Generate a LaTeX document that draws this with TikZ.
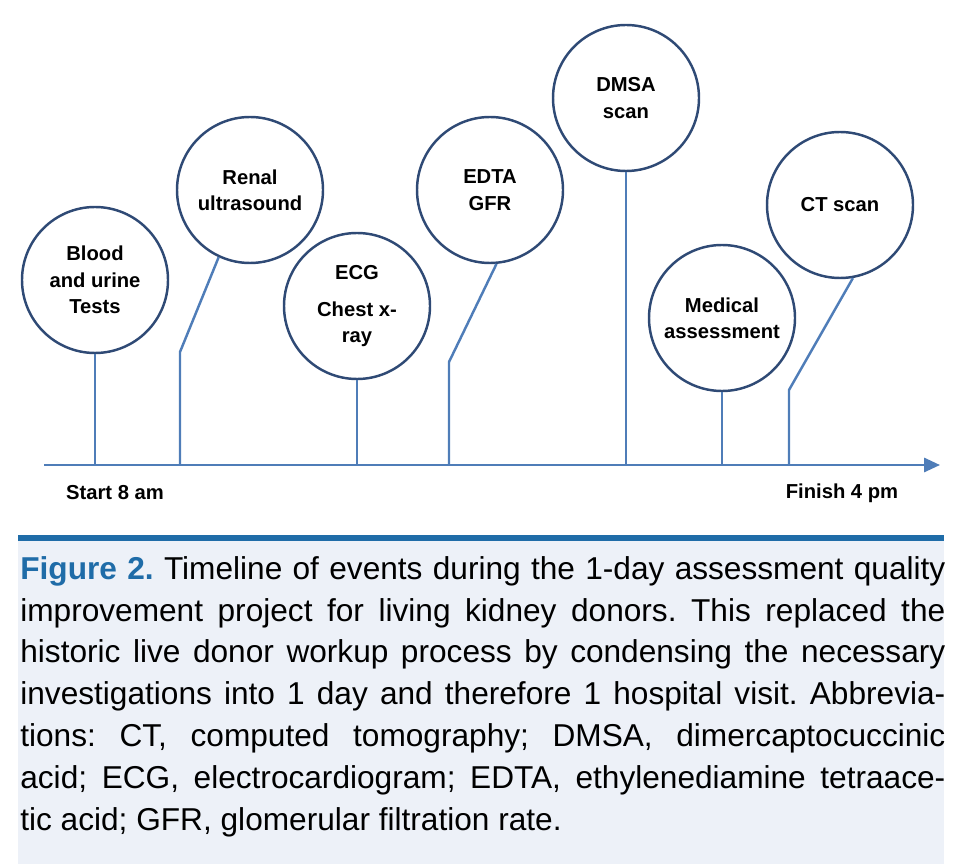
\documentclass[tikz,border=0pt]{standalone}
\usepackage{fontspec}
\setmainfont{Liberation Sans}
\usetikzlibrary{arrows.meta}
\definecolor{circ}{HTML}{2F4A75}
\definecolor{conn}{HTML}{4F7DB8}
\definecolor{capblue}{HTML}{1F6CA8}
\definecolor{capbg}{HTML}{EDF1F8}
\begin{document}
\frenchspacing
\begin{tikzpicture}[x=0.02cm,y=-0.02cm,
  ev/.style={circle,draw=circ,line width=1.4pt,minimum size=146*0.02cm,inner sep=0pt,align=center,font=\fontsize{11.5}{15}\selectfont\bfseries},
  cn/.style={draw=conn,line width=1.4pt}]
\useasboundingbox (0,0) rectangle (966,864);
\fill[capbg] (18,538) rectangle (944,864);
\draw[capblue,line width=3pt] (18,538) -- (944,538);
\node (a) [ev] at (95,280) {Blood\\and urine\\Tests};
\node (b) [ev] at (250,190) {Renal\\ultrasound};
\node (c) [ev] at (357,306) {ECG\\[6pt]Chest x-\\ray};
\node (d) [ev] at (490,190) {EDTA\\GFR};
\node (e) [ev] at (626,98) {DMSA\\scan};
\node (f) [ev] at (722,318) {Medical\\assessment};
\node (g) [ev] at (840,205) {CT scan};
\coordinate (ax0) at (44,465); \coordinate (ax1) at (940,465);
\draw[cn,-{Triangle[length=9pt,width=8pt]}] (ax0) -- (ax1);
\coordinate (pa) at (95,465); \coordinate (pb) at (180,465); \coordinate (qb) at (180,352);
\coordinate (pc) at (357,465); \coordinate (pd) at (449,465); \coordinate (qd) at (449,362);
\coordinate (pe) at (626,465); \coordinate (pf) at (722,465); \coordinate (pg) at (789,465); \coordinate (qg) at (789,390);
\draw[cn] (pa) -- (a.south);
\draw[cn] (pb) -- (qb) -- (b.245);
\draw[cn] (pc) -- (c.south);
\draw[cn] (pd) -- (qd) -- (d.275);
\draw[cn] (pe) -- (e.south);
\draw[cn] (pf) -- (f.south);
\draw[cn] (pg) -- (qg) -- (g.280);
\node (s) [font=\fontsize{11.5}{14}\selectfont\bfseries] at (115,493) {Start 8 am};
\node (t) [font=\fontsize{11.5}{14}\selectfont\bfseries] at (842,493) {Finish 4 pm};
\node (cap) [anchor=north west,text width=925*0.02cm,align=justify,inner sep=0pt,font=\fontsize{18}{23.8}\selectfont] at (20,556)
{{\color{capblue}\bfseries Figure 2.} Timeline of events during the 1-day assessment quality\linebreak
improvement project for living kidney donors. This replaced the\linebreak
historic live donor workup process by condensing the necessary\linebreak
investigations into 1 day and therefore 1 hospital visit. Abbrevia-\linebreak
tions: CT, computed tomography; DMSA, dimercaptocuccinic\linebreak
acid; ECG, electrocardiogram; EDTA, ethylenediamine tetraace-\linebreak
tic acid; GFR, glomerular filtration rate.};
\end{tikzpicture}
\end{document}
